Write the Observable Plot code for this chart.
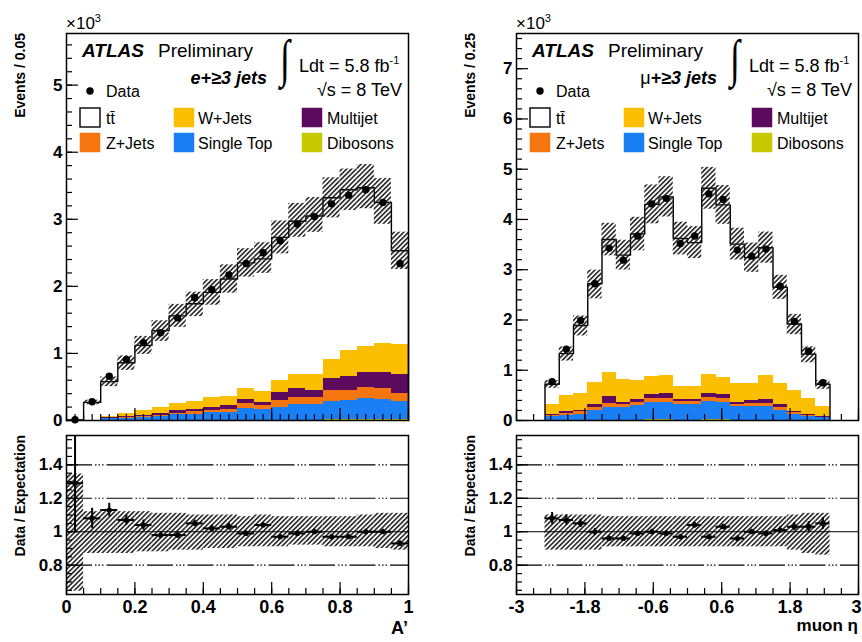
<!DOCTYPE html>
<html><head><meta charset="utf-8">
<script src="https://cdn.jsdelivr.net/npm/d3@7"></script>
<script src="https://cdn.jsdelivr.net/npm/@observablehq/plot@0.6"></script>
<style>
body{margin:0;background:#fff;}
#fig{position:relative;width:862px;height:642px;overflow:hidden;background:#fff;font-family:"Liberation Sans",Arial,Helvetica,sans-serif;}
#fig svg{position:absolute;overflow:visible;max-width:none;}
</style></head><body><div id="fig"></div>
<script>
// ---------- shared ----------
const processes = ["Dibosons", "Single Top", "Z+Jets", "Multijet", "W+Jets"];
const processColors = ["#c8c800", "#1a7ff5", "#f5760f", "#5c0a5e", "#fbbf00"];
const ratioYTicks = [0.8, 1, 1.2, 1.4];
const ratioGrid = [0.8, 1.2, 1.4];

// ---------- left: e + >=3 jets, A' ----------
const aEdges = [0, 0.05, 0.1, 0.15, 0.2, 0.25, 0.3, 0.35, 0.4, 0.45, 0.5, 0.55, 0.6, 0.65, 0.7, 0.75, 0.8, 0.85, 0.9, 0.95, 1];
const aExpected = [0.008, 0.27, 0.58, 0.86, 1.12, 1.34, 1.56, 1.74, 1.91, 2.11, 2.35, 2.41, 2.73, 2.97, 3.05, 3.32, 3.44, 3.47, 3.25, 2.53];
const aData = [0.011, 0.28, 0.66, 0.91, 1.16, 1.31, 1.53, 1.83, 1.95, 2.17, 2.34, 2.50, 2.68, 2.93, 3.04, 3.23, 3.36, 3.44, 3.25, 2.34];
const aDibosons = [0, 0, 0.001, 0.001, 0.002, 0.002, 0.003, 0.003, 0.004, 0.004, 0.005, 0.005, 0.006, 0.007, 0.007, 0.008, 0.009, 0.01, 0.01, 0.009];
const aSingleTop = [0, 0.003, 0.029, 0.034, 0.048, 0.058, 0.082, 0.087, 0.121, 0.121, 0.175, 0.155, 0.184, 0.233, 0.233, 0.272, 0.291, 0.32, 0.31, 0.281];
const aZJets = [0, 0, 0.005, 0.01, 0.015, 0.02, 0.025, 0.04, 0.025, 0.045, 0.07, 0.06, 0.11, 0.11, 0.11, 0.16, 0.15, 0.16, 0.16, 0.12];
const aMultijet = [0, 0, 0.005, 0.01, 0.015, 0.03, 0.04, 0.04, 0.04, 0.05, 0.07, 0.05, 0.12, 0.13, 0.09, 0.18, 0.21, 0.22, 0.23, 0.27];
const aWJets = [0, 0.002, 0.02, 0.055, 0.07, 0.09, 0.11, 0.12, 0.15, 0.14, 0.15, 0.16, 0.17, 0.20, 0.24, 0.29, 0.39, 0.40, 0.44, 0.45];
const aRatio = [1.29, 1.08, 1.13, 1.07, 1.04, 0.98, 0.98, 1.05, 1.02, 1.03, 0.99, 1.04, 0.97, 0.99, 1.0, 0.97, 0.97, 1.0, 1.0, 0.93];
const aRatioErr = [0.29, 0.06, 0.04, 0.03, 0.03, 0.02, 0.02, 0.02, 0.02, 0.02, 0.015, 0.015, 0.015, 0.015, 0.015, 0.015, 0.015, 0.015, 0.015, 0.015];
const aBandHi = [1.345, 1.12, 1.12, 1.12, 1.12, 1.11, 1.11, 1.10, 1.10, 1.10, 1.09, 1.10, 1.09, 1.09, 1.09, 1.09, 1.09, 1.10, 1.11, 1.11];
const aBandLo = [0.645, 0.87, 0.87, 0.87, 0.88, 0.88, 0.89, 0.89, 0.90, 0.90, 0.91, 0.91, 0.91, 0.92, 0.92, 0.91, 0.91, 0.91, 0.90, 0.89];
const aXTicks = [0, 0.2, 0.4, 0.6, 0.8, 1];
const aYTicks = [0, 1, 2, 3, 4, 5];

// ---------- right: mu + >=3 jets, muon eta ----------
const etaEdges = [-2.5, -2.25, -2, -1.75, -1.5, -1.25, -1, -0.75, -0.5, -0.25, 0, 0.25, 0.5, 0.75, 1, 1.25, 1.5, 1.75, 2, 2.25, 2.5];
const etaExpected = [0.72, 1.33, 1.89, 2.72, 3.60, 3.29, 3.71, 4.30, 4.45, 3.62, 3.54, 4.62, 4.29, 3.51, 3.24, 3.44, 2.65, 1.92, 1.32, 0.72];
const etaData = [0.77, 1.42, 1.99, 2.72, 3.43, 3.19, 3.67, 4.31, 4.42, 3.52, 3.67, 4.51, 4.40, 3.39, 3.27, 3.41, 2.67, 1.97, 1.38, 0.75];
const etaDibosons = [0.003, 0.004, 0.005, 0.007, 0.008, 0.008, 0.009, 0.01, 0.01, 0.009, 0.009, 0.01, 0.01, 0.009, 0.008, 0.008, 0.007, 0.005, 0.004, 0.003];
const etaSingleTop = [0.067, 0.096, 0.115, 0.193, 0.242, 0.242, 0.281, 0.34, 0.34, 0.311, 0.311, 0.36, 0.34, 0.261, 0.262, 0.262, 0.193, 0.115, 0.076, 0.047];
const etaZJets = [0.03, 0.04, 0.05, 0.05, 0.08, 0.07, 0.06, 0.09, 0.09, 0.05, 0.05, 0.09, 0.09, 0.05, 0.06, 0.06, 0.05, 0.03, 0.02, 0.01];
const etaMultijet = [0.02, 0.03, 0.03, 0.06, 0.14, 0.03, 0.06, 0.08, 0.10, 0.04, 0.04, 0.08, 0.08, 0.03, 0.06, 0.08, 0.06, 0.03, 0.02, 0.02];
const etaWJets = [0.19, 0.33, 0.34, 0.45, 0.48, 0.47, 0.39, 0.36, 0.36, 0.27, 0.27, 0.38, 0.34, 0.38, 0.34, 0.49, 0.43, 0.41, 0.32, 0.19];
const etaRatio = [1.08, 1.07, 1.05, 1.0, 0.96, 0.96, 0.99, 1.0, 0.99, 0.97, 1.04, 0.97, 1.03, 0.96, 1.0, 0.99, 1.01, 1.03, 1.03, 1.05];
const etaRatioErr = [0.035, 0.03, 0.025, 0.02, 0.015, 0.015, 0.015, 0.015, 0.015, 0.015, 0.015, 0.015, 0.015, 0.015, 0.015, 0.015, 0.02, 0.025, 0.03, 0.035];
const etaBandHi = [1.10, 1.10, 1.10, 1.10, 1.09, 1.09, 1.09, 1.09, 1.09, 1.09, 1.09, 1.09, 1.09, 1.09, 1.09, 1.09, 1.09, 1.10, 1.11, 1.11];
const etaBandLo = [0.89, 0.89, 0.89, 0.89, 0.91, 0.91, 0.91, 0.91, 0.91, 0.91, 0.91, 0.91, 0.91, 0.91, 0.91, 0.91, 0.91, 0.89, 0.87, 0.86];
const etaXTicks = [-3, -1.8, -0.6, 0.6, 1.8, 3];
const etaYTicks = [0, 1, 2, 3, 4, 5, 6, 7];

// ---------- helpers ----------
const FONT = "'Liberation Sans', Arial, Helvetica, sans-serif";
const fig = document.getElementById("fig");

function addHatch(svg, id) {
  const defs = d3.select(svg).insert("defs", ":first-child");
  const p = defs.append("pattern").attr("id", id).attr("patternUnits", "userSpaceOnUse")
    .attr("width", 3.4).attr("height", 3.4).attr("patternTransform", "rotate(45)");
  p.append("line").attr("x1", 0.8).attr("y1", 0).attr("x2", 0.8).attr("y2", 3.4)
    .attr("stroke", "#1e1e1e").attr("stroke-width", 1.55);
}

function place(svg, left, top) {
  svg.style.left = left + "px";
  svg.style.top = top + "px";
  fig.appendChild(svg);
}

function topPanel(o) {
  const n = o.expected.length;
  const fw = o.width - o.ml - o.mr, fh = o.height - o.mt - o.mb;
  const bins = o.expected.map((e, i) => ({
    x1: o.edges[i], x2: o.edges[i + 1], xc: (o.edges[i] + o.edges[i + 1]) / 2,
    data: o.data[i], lo: e * o.bandLo[i], hi: e * o.bandHi[i]
  }));
  const stack = [];
  o.components.forEach((vals, k) => vals.forEach((v, i) =>
    stack.push({process: processes[k], x1: o.edges[i], x2: o.edges[i + 1], y: v})));
  const outline = [{x: o.edges[0], y: 0}]
    .concat(o.expected.map((e, i) => ({x: o.edges[i], y: e})))
    .concat([{x: o.edges[n], y: o.expected[n - 1]}, {x: o.edges[n], y: 0}]);
  const svg = Plot.plot({
    width: o.width, height: o.height,
    marginLeft: o.ml, marginRight: o.mr, marginTop: o.mt, marginBottom: o.mb,
    x: {domain: o.xDomain, axis: null},
    y: {domain: o.yDomain, axis: null},
    color: {domain: processes, range: processColors},
    style: {background: "transparent", fontFamily: FONT, overflow: "visible"},
    marks: [
      Plot.rectY(stack, {x1: "x1", x2: "x2", y: "y", fill: "process", order: processes, inset: 0, shapeRendering: "crispEdges"}),
      Plot.line(outline, {x: "x", y: "y", curve: "step-after", stroke: "black", strokeWidth: 1.4}),
      Plot.rect(bins, {x1: "x1", x2: "x2", y1: "lo", y2: "hi", fill: `url(#${o.id})`}),
      Plot.dot(bins, {x: "xc", y: "data", r: 3.7, fill: "black", stroke: null}),
      Plot.tickY(o.yMinor, {y: d => d, insetRight: fw - 6, stroke: "black", strokeWidth: 1.2}),
      Plot.tickY(o.yTicks, {y: d => d, insetRight: fw - 12, stroke: "black", strokeWidth: 1.2}),
      Plot.tickX(o.xMinor, {x: d => d, insetTop: fh - 6, stroke: "black", strokeWidth: 1.2}),
      Plot.tickX(o.xTicks, {x: d => d, insetTop: fh - 12, stroke: "black", strokeWidth: 1.2}),
      Plot.axisY(o.yTicks, {anchor: "left", tickSize: 0, tickPadding: 4, tickFormat: d => String(d), fontSize: 17, fontWeight: "bold", label: null}),
      Plot.frame({stroke: "black", strokeWidth: 1.5})
    ]
  });
  addHatch(svg, o.id);
  return svg;
}

function ratioPanel(o) {
  const fw = o.width - o.ml - o.mr, fh = o.height - o.mt - o.mb;
  const bins = o.ratio.map((r, i) => ({
    x1: o.edges[i], x2: o.edges[i + 1], xc: (o.edges[i] + o.edges[i + 1]) / 2,
    r, lo: r - o.err[i], hi: r + o.err[i], bLo: o.bandLo[i], bHi: o.bandHi[i]
  }));
  const innerLabels = o.xTicks.slice(0, -1);
  const lastLabel = o.xTicks.slice(-1);
  const labelOpts = {anchor: "bottom", tickSize: 0, tickPadding: 6, tickFormat: d => String(d), fontSize: 18, fontWeight: "bold", label: null};
  const svg = Plot.plot({
    width: o.width, height: o.height,
    marginLeft: o.ml, marginRight: o.mr, marginTop: o.mt, marginBottom: o.mb,
    x: {domain: o.xDomain},
    y: {domain: [0.625, 1.575]},
    style: {background: "transparent", fontFamily: FONT, overflow: "visible"},
    marks: [
      Plot.rect(bins, {x1: "x1", x2: "x2", y1: "bLo", y2: "bHi", fill: `url(#${o.id})`}),
      Plot.ruleY(ratioGrid, {stroke: "black", strokeWidth: 1.2, strokeDasharray: "26,3,1.5,2,1.5,2,1.5,3"}),
      Plot.ruleY([1], {stroke: "black", strokeWidth: 1.2}),
      Plot.ruleY(bins, {x1: "x1", x2: "x2", y: "r", stroke: "black", strokeWidth: 2}),
      Plot.ruleX(bins, {x: "xc", y1: "lo", y2: "hi", stroke: "black", strokeWidth: 2, clip: true}),
      Plot.dot(bins, {x: "xc", y: "r", r: 2.6, fill: "black", stroke: null}),
      Plot.tickY(o.yMinor, {y: d => d, insetRight: fw - 6, stroke: "black", strokeWidth: 1.2}),
      Plot.tickY(ratioYTicks, {y: d => d, insetRight: fw - 12, stroke: "black", strokeWidth: 1.2}),
      Plot.tickX(o.xMinor, {x: d => d, insetTop: fh - 6, stroke: "black", strokeWidth: 1.2}),
      Plot.tickX(o.xTicks, {x: d => d, insetTop: fh - 12, stroke: "black", strokeWidth: 1.2}),
      Plot.axisY(ratioYTicks, {anchor: "left", tickSize: 0, tickPadding: 4, tickFormat: d => String(d), fontSize: 17, fontWeight: "bold", label: null}),
      Plot.axisX(innerLabels, labelOpts),
      Plot.axisX(lastLabel, {...labelOpts, dx: o.lastDx || 0}),
      Plot.frame({stroke: "black", strokeWidth: 1.5})
    ]
  });
  addHatch(svg, o.id);
  return svg;
}

// ---------- build panels ----------
const L = {width: 431, ml: 66, mr: 23};
const R = {width: 431, ml: 85, mr: 4};
const T = {height: 428, mt: 33, mb: 8};
const B = {height: 214, mt: 7, mb: 48};

place(topPanel({
  ...L, ...T, id: "hatchA",
  edges: aEdges, expected: aExpected, data: aData, bandLo: aBandLo, bandHi: aBandHi,
  components: [aDibosons, aSingleTop, aZJets, aMultijet, aWJets],
  xDomain: [0, 1], yDomain: [0, 5.77],
  xTicks: aXTicks, xMinor: d3.range(0, 1.0001, 0.025),
  yTicks: aYTicks, yMinor: d3.range(0, 5.77, 0.2)
}), 0, 0);

place(ratioPanel({
  ...L, ...B, id: "hatchAr",
  edges: aEdges, ratio: aRatio, err: aRatioErr, bandLo: aBandLo, bandHi: aBandHi,
  xDomain: [0, 1], xTicks: aXTicks, xMinor: d3.range(0, 1.0001, 0.05),
  yMinor: d3.range(0.65, 1.575, 0.05)
}), 0, 428);

place(topPanel({
  ...R, ...T, id: "hatchE",
  edges: etaEdges, expected: etaExpected, data: etaData, bandLo: etaBandLo, bandHi: etaBandHi,
  components: [etaDibosons, etaSingleTop, etaZJets, etaMultijet, etaWJets],
  xDomain: [-3, 3], yDomain: [0, 7.7],
  xTicks: etaXTicks, xMinor: d3.range(-3, 3.0001, 0.3),
  yTicks: etaYTicks, yMinor: d3.range(0, 7.7, 0.2)
}), 431, 0);

place(ratioPanel({
  ...R, ...B, id: "hatchEr", lastDx: -2,
  edges: etaEdges, ratio: etaRatio, err: etaRatioErr, bandLo: etaBandLo, bandHi: etaBandHi,
  xDomain: [-3, 3], xTicks: etaXTicks, xMinor: d3.range(-3, 3.0001, 0.3),
  yMinor: d3.range(0.65, 1.575, 0.05)
}), 431, 428);

// ---------- text overlay ----------
const ov = d3.select(fig).append("svg").attr("width", 862).attr("height", 642)
  .style("left", "0px").style("top", "0px").style("pointer-events", "none")
  .style("font-family", FONT);

function txt(x, y, s, opt = {}) {
  const t = ov.append("text").attr("x", x).attr("y", y)
    .attr("font-size", opt.size || 16).attr("fill", "black")
    .attr("text-anchor", opt.anchor || "start");
  if (opt.weight) t.attr("font-weight", opt.weight);
  if (opt.style) t.attr("font-style", opt.style);
  if (opt.family) t.attr("font-family", opt.family);
  if (opt.transform) t.attr("transform", opt.transform);
  t.text(s);
  return t;
}

const legendRows = [
  [{label: "tt\u0304", fill: "white", stroke: "black"}, {label: "W+Jets", fill: processColors[4]}, {label: "Multijet", fill: processColors[3]}],
  [{label: "Z+Jets", fill: processColors[2]}, {label: "Single Top", fill: processColors[1]}, {label: "Dibosons", fill: processColors[0]}]
];

function annotate(dx, yTitle, channelParts, channelEnd) {
  // x10^3
  const m = txt(66 + dx, 29, "\u00d710", {size: 17});
  m.append("tspan").attr("dy", -7).attr("font-size", 11).text("3");
  // axis titles
  txt(0, 0, yTitle, {size: 14, weight: "bold", anchor: "end", transform: `translate(${25 + dx},33) rotate(-90)`});
  txt(0, 0, "Data / Expectation", {size: 14, weight: "bold", anchor: "end", transform: `translate(${25 + dx},435) rotate(-90)`});
  // ATLAS Preliminary
  txt(82 + dx, 57, "ATLAS", {size: 19, weight: "bold", style: "italic"});
  txt(158 + dx, 57, "Preliminary", {size: 19});
  // channel
  const c = ov.append("text").attr("x", channelEnd + dx).attr("y", 84).attr("text-anchor", "end").attr("font-size", 18);
  channelParts.forEach(p => c.append("tspan").attr("font-weight", p.bold ? "bold" : null).attr("font-style", p.italic ? "italic" : null).text(p.t));
  // luminosity
  txt(0, 0, "\u222b", {size: 36, family: "'Liberation Serif', 'DejaVu Serif', serif", transform: `translate(${280 + dx},76) scale(1,1.45)`});
  const l = txt(299 + dx, 72, "Ldt = 5.8 fb", {size: 18});
  l.append("tspan").attr("dy", -8).attr("font-size", 11).text("-1");
  txt(402 + dx, 96, "\u221as = 8 TeV", {size: 18, anchor: "end"});
  // Data marker
  ov.append("circle").attr("cx", 90 + dx).attr("cy", 91).attr("r", 3.7).attr("fill", "black");
  txt(106 + dx, 97, "Data", {size: 16});
  // legend boxes
  const colsBox = [80, 174, 302], colsTxt = [106, 198, 327];
  const rowsY = [108, 133], rowsBase = [124, 149];
  legendRows.forEach((row, r) => row.forEach((e, k) => {
    ov.append("rect").attr("x", colsBox[k] + dx).attr("y", rowsY[r]).attr("width", 20).attr("height", 19)
      .attr("fill", e.fill).attr("stroke", e.stroke || e.fill).attr("stroke-width", e.stroke ? 1.4 : 0.5);
    txt(colsTxt[k] + dx, rowsBase[r], e.label, {size: 16});
  }));
}

annotate(0, "Events / 0.05", [{t: "e+\u22653 jets", bold: true, italic: true}], 267);
annotate(450, "Events / 0.25", [{t: "\u03bc"}, {t: "+\u22653 jets", bold: true, italic: true}], 267);

txt(408, 634, "A\u2019", {size: 18, weight: "bold", anchor: "end"});
txt(858, 631, "muon \u03b7", {size: 17, weight: "bold", anchor: "end"});
</script>
</body></html>
